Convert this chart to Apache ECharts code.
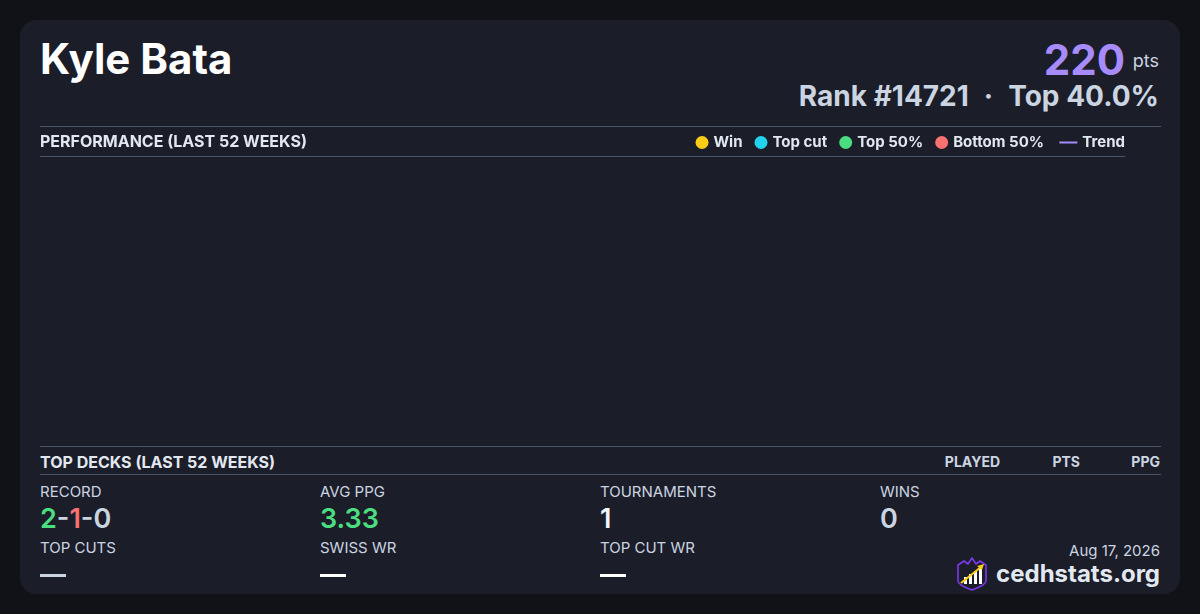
<!DOCTYPE html>
<html>
<head>
<meta charset="utf-8">
<script src="https://cdn.jsdelivr.net/npm/echarts@6/dist/echarts.min.js"></script>
<style>
  html,body{margin:0;padding:0;width:1200px;height:614px;background:#111217;overflow:hidden;font-family:Inter,"Noto Sans",sans-serif;}
  .card{position:absolute;left:20px;top:20px;width:1160px;height:574px;background:#1b1d29;border-radius:16px;}
  .abs{position:absolute;white-space:nowrap;line-height:1;}
  .hline{position:absolute;height:1px;background:#475569;}
  .lbl{font-size:15px;color:#cbd5e1;font-weight:400;}
  .val{font-size:27px;font-weight:600;}
  .dash{position:absolute;height:3px;width:26px;}
</style>
</head>
<body>
<div class="card"></div>

<div class="abs" id="name" style="left:40px;top:38px;font-size:42px;font-weight:700;color:#ffffff;">Kyle Bata</div>
<div class="abs" style="right:75px;top:39px;font-size:42px;font-weight:700;color:#a78bfa;">220</div>
<div class="abs" style="right:41px;top:52px;font-size:18px;font-weight:400;color:#cbd5e1;">pts</div>
<div class="abs" style="right:41px;top:82px;font-size:28px;font-weight:700;color:#cbd5e1;">Rank #14721<span style="margin:0 15px;">·</span>Top 40.0%</div>

<div class="hline" style="left:40px;top:126px;width:1121px;"></div>
<div class="hline" style="left:40px;top:156px;width:1085px;"></div>

<div id="chart" style="position:absolute;left:40px;top:127px;width:1121px;height:319px;"></div>

<div class="hline" style="left:40px;top:446px;width:1121px;"></div>
<div class="abs" style="left:40px;top:454px;font-size:16px;font-weight:700;color:#e2e8f0;">TOP DECKS (LAST 52 WEEKS)</div>
<div class="abs" style="right:200px;top:455px;font-size:14px;font-weight:700;color:#cbd5e1;">PLAYED</div>
<div class="abs" style="right:120px;top:455px;font-size:14px;font-weight:700;color:#cbd5e1;">PTS</div>
<div class="abs" style="right:40px;top:455px;font-size:14px;font-weight:700;color:#cbd5e1;">PPG</div>
<div class="hline" style="left:40px;top:474px;width:1121px;"></div>

<div class="abs lbl" style="left:40px;top:484px;">RECORD</div>
<div class="abs val" style="left:40px;top:505px;"><span style="color:#4ade80">2</span><span style="color:#cbd5e1">-</span><span style="color:#f87171">1</span><span style="color:#cbd5e1">-0</span></div>
<div class="abs lbl" style="left:320px;top:484px;">AVG PPG</div>
<div class="abs val" style="left:320px;top:505px;color:#4ade80;">3.33</div>
<div class="abs lbl" style="left:600px;top:484px;">TOURNAMENTS</div>
<div class="abs val" style="left:600px;top:505px;color:#f1f5f9;">1</div>
<div class="abs lbl" style="left:880px;top:484px;">WINS</div>
<div class="abs val" style="left:880px;top:505px;color:#cbd5e1;">0</div>

<div class="abs lbl" style="left:40px;top:540px;">TOP CUTS</div>
<div class="dash" style="left:40px;top:574px;background:#cbd5e1;"></div>
<div class="abs lbl" style="left:320px;top:540px;">SWISS WR</div>
<div class="dash" style="left:320px;top:574px;background:#ffffff;"></div>
<div class="abs lbl" style="left:600px;top:540px;">TOP CUT WR</div>
<div class="dash" style="left:600px;top:574px;background:#ffffff;"></div>

<div class="abs lbl" style="right:40px;top:543px;">Aug 17, 2026</div>
<div class="abs" style="right:40px;top:562px;font-size:24px;font-weight:700;color:#e2e8f0;">cedhstats.org</div>
<svg style="position:absolute;left:956px;top:557px;" width="32" height="34" viewBox="0 0 32 34">
  <path d="M2,8 L8,4 L12,7 L16,1 L20,7 L24,4 L30,8 L30,24 Q30,28 16,33 Q2,28 2,24 Z" fill="#1b1d29" stroke="#7c3aed" stroke-width="1.6" stroke-linejoin="round"/>
  <rect x="8" y="20" width="3" height="7" fill="#ffffff"/>
  <rect x="13" y="17" width="3" height="10" fill="#ffffff"/>
  <rect x="18" y="14" width="3" height="13" fill="#ffffff"/>
  <rect x="23" y="11" width="3" height="16" fill="#ffffff"/>
  <line x1="5" y1="26" x2="25" y2="10" stroke="#facc15" stroke-width="2"/>
  <path d="M28,7 L21,9 L26,13 Z" fill="#facc15"/>
</svg>

<script>
// Performance data (last 52 weeks) — no plotted results in the reference
const categories = [];
const winPoints = [];
const topCutPoints = [];
const top50Points = [];
const bottom50Points = [];
const trendValues = [];
const seriesNames = ['Win', 'Top cut', 'Top 50%', 'Bottom 50%', 'Trend'];
const seriesColors = ['#facc15', '#22d3ee', '#4ade80', '#f87171', '#a78bfa'];

const chart = echarts.init(document.getElementById('chart'));
const textStyle = {color: '#e2e8f0', fontSize: 15, fontWeight: 700, fontFamily: 'Inter'};
chart.setOption({
  animation: false,
  title: {
    text: 'PERFORMANCE (LAST 52 WEEKS)',
    left: -5, top: 1,
    textStyle: {color: '#e2e8f0', fontSize: 16, fontWeight: 700, fontFamily: 'Inter', lineHeight: 18}
  },
  legend: [
    {
      data: seriesNames.slice(0, 4),
      right: 117, top: 8,
      icon: 'circle', itemWidth: 13, itemHeight: 13, itemGap: 12,
      padding: 0,
      textStyle: textStyle
    },
    {
      data: seriesNames.slice(4),
      right: 36, top: 8,
      icon: 'rect', itemWidth: 18, itemHeight: 2, itemGap: 12,
      padding: 0,
      textStyle: textStyle
    }
  ],
  grid: {left: 10, right: 46, top: 40, bottom: 10},
  xAxis: {type: 'category', data: categories, show: false},
  yAxis: {type: 'value', show: false},
  series: [
    {name: seriesNames[0], type: 'scatter', data: winPoints, itemStyle: {color: seriesColors[0], opacity: 1}},
    {name: seriesNames[1], type: 'scatter', data: topCutPoints, itemStyle: {color: seriesColors[1], opacity: 1}},
    {name: seriesNames[2], type: 'scatter', data: top50Points, itemStyle: {color: seriesColors[2], opacity: 1}},
    {name: seriesNames[3], type: 'scatter', data: bottom50Points, itemStyle: {color: seriesColors[3], opacity: 1}},
    {name: seriesNames[4], type: 'line', data: trendValues, showSymbol: false, itemStyle: {color: seriesColors[4]}, lineStyle: {color: seriesColors[4], width: 2}}
  ]
});
</script>
</body>
</html>
